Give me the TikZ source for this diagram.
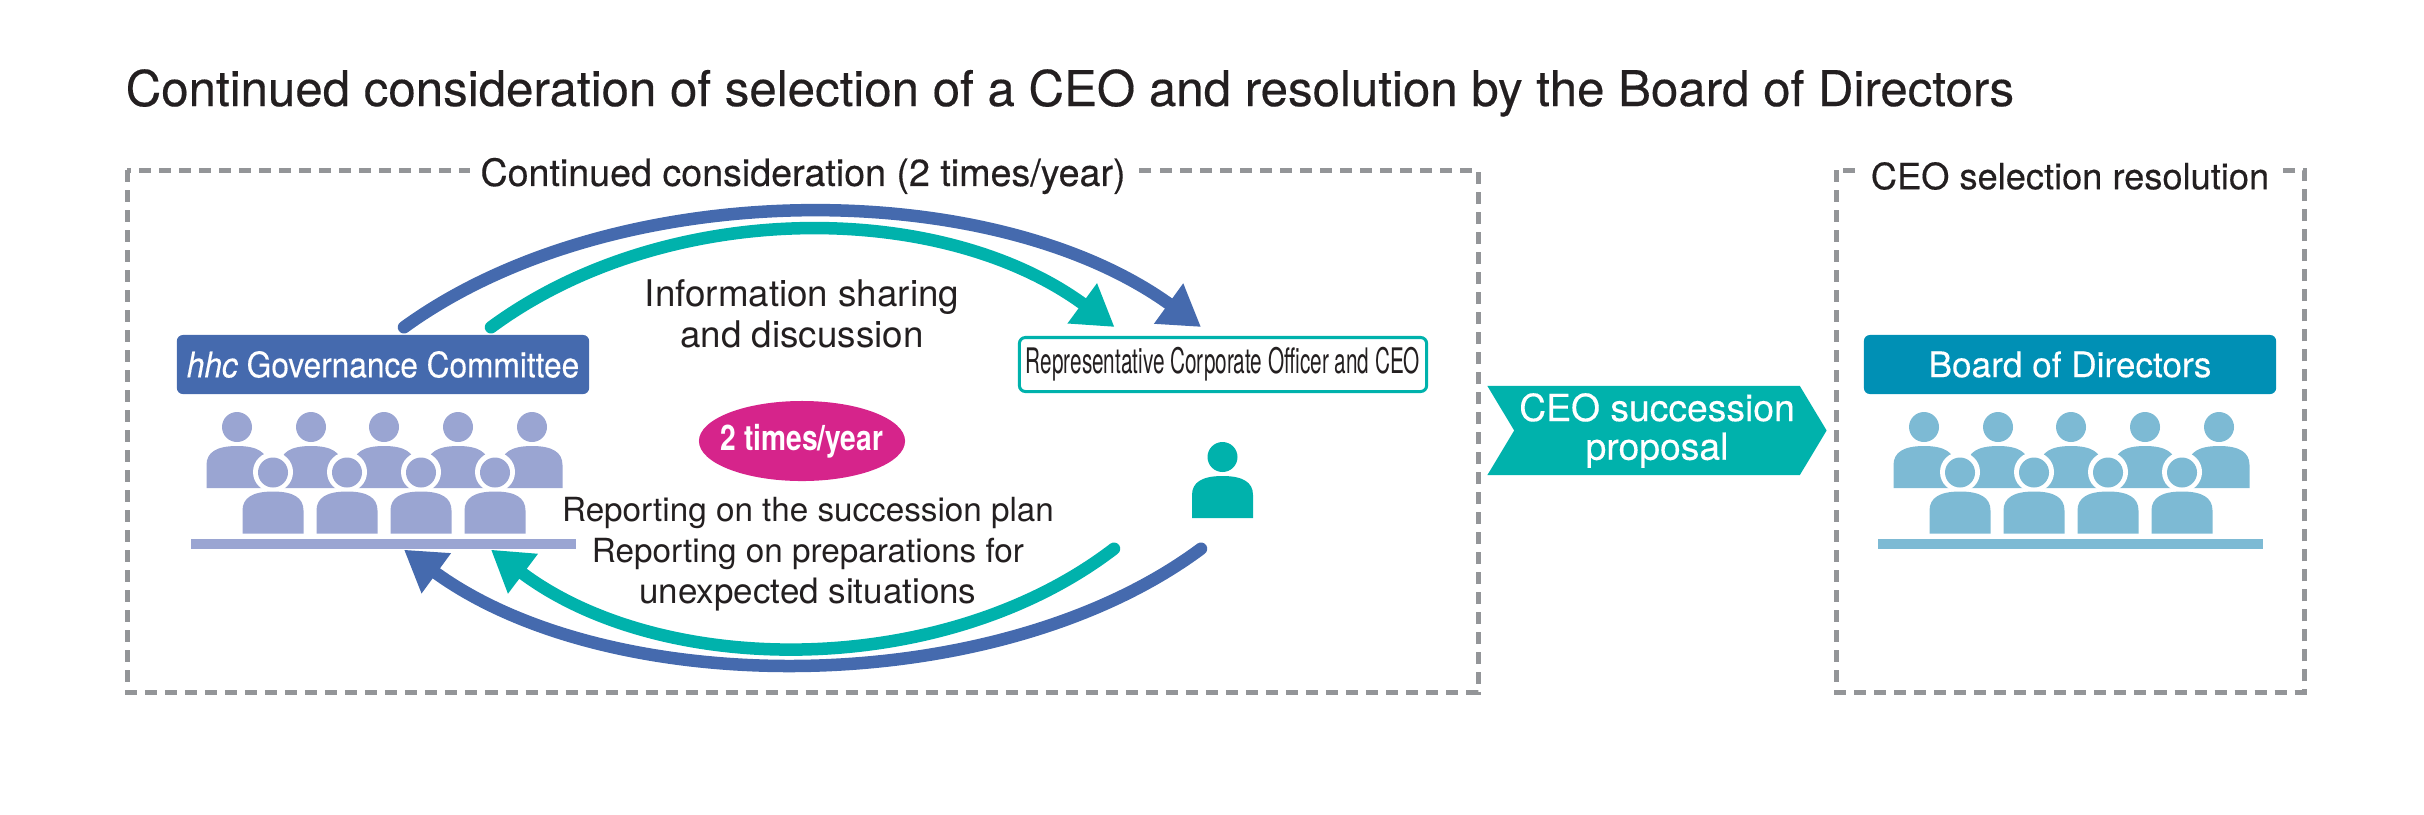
\documentclass[tikz,border=0pt]{standalone}
\usepackage{fontspec}
\usepackage{graphicx}
\setmainfont{TeX Gyre Heros}
\newfontfamily\medfont[FakeBold=0.3]{TeX Gyre Heros}
\usetikzlibrary{arrows.meta,shapes.geometric,shapes.symbols}
\definecolor{govblue}{HTML}{456AAE}
\definecolor{ceoteal}{HTML}{00B2AC}
\definecolor{govseat}{HTML}{9AA5D2}
\definecolor{boardblue}{HTML}{0090B5}
\definecolor{boardseat}{HTML}{7DBAD4}
\definecolor{pink}{HTML}{D6248B}
\definecolor{dashgray}{HTML}{939598}
\definecolor{inkblack}{HTML}{231F20}
\begin{document}
\begin{tikzpicture}[x=0.01cm,y=-0.01cm]
	\tikzset{
		frame/.style={draw=dashgray, line width=0.05cm, dash pattern=on 0.12cm off 0.08cm},
		framelabel/.style={fill=white, inner xsep=0.1cm, inner ysep=0cm, text=inkblack},
		header/.style={rectangle, rounded corners=0.06cm, minimum width=4.12cm, minimum height=0.59cm, inner sep=0cm, text=white},
		desk/.style={rectangle, minimum height=0.1cm, minimum width=3.85cm, inner sep=0cm},
		talk/.style={text=inkblack, align=center},
		flow/.style={line width=0.125cm, line cap=round, -{Triangle[length=0.4cm,width=0.47cm]}},
		person/.pic={
			\fill[#1] (0,-40) circle (15);
			\fill[#1] (-30.5,21) -- (-30.5,-2) .. controls (-30.5,-15) and (-20,-21) .. (0,-21) .. controls (20,-21) and (30.5,-15) .. (30.5,-2) -- (30.5,21) -- cycle;
		},
		crowd/.pic={
			\foreach \px in {0,74,147,221,295} \path (\px,0) pic {person=#1};
			\foreach \px in {36,110,184,258} {
				\fill[white] (\px,5) circle (20);
				\path (\px,45.5) pic {person=#1};
			}
		}
	}
	\useasboundingbox (0,0) rectangle (2424,814);
	\node[anchor=base west, inner sep=0cm, text=inkblack, font=\medfont\fontsize{14}{16}\selectfont] (title) at (125,106) {Continued consideration of selection of a CEO and resolution by the Board of Directors};
	% dashed frames
	\draw[frame] (127,170) rectangle (1478,692);
	\draw[frame] (1836,170) rectangle (2304,692);
	\node[framelabel,font=\medfont\fontsize{10.7}{12}\selectfont] (considerlabel) at (803,176) {Continued consideration (2 times/year)};
	\node[framelabel,font=\medfont\fontsize{10.3}{12}\selectfont] (selectlabel  ) at (2070,176) {CEO selection resolution};
	% committee side
	\node[header,fill=govblue,font=\medfont\fontsize{10}{12}\selectfont] (gov) at (383,364.5) {\scalebox{0.9}[1]{\textit{hhc} Governance Committee}};
	\path (237,467) pic {crowd=govseat};
	\node[desk,fill=govseat] (govdesk) at (383.5,544) {};
	% ceo side
	\node[rectangle, draw=ceoteal, line width=0.03cm, rounded corners=0.06cm, minimum width=4.07cm, minimum height=0.54cm, inner sep=0cm, text=inkblack, font=\fontsize{10}{12}\selectfont] (rep) at (1223,364.5) {\scalebox{0.59}[1]{Representative Corporate Officer and CEO}};
	\path (1222.5,497) pic {person=ceoteal};
	\node[minimum width=0.61cm, minimum height=0.41cm, inner sep=0cm] (ceo) at (1222.5,497.5) {};
	% board side
	\node[signal, signal to=east, signal from=west, signal pointer angle=118, fill=ceoteal, minimum width=3.39cm, minimum height=0.89cm, inner sep=0cm, text=white, align=center, font=\medfont\fontsize{10.6}{11}\selectfont] (proposal) at (1657,430.5) {CEO succession\\proposal};
	\node[header,fill=boardblue,font=\medfont\fontsize{10}{12}\selectfont] (board) at (2070,364.5) {Board of Directors};
	\path (1924,467) pic {crowd=boardseat};
	\node[desk,fill=boardseat] (boarddesk) at (2070.5,544) {};
	% texts in the middle
	\node[talk,font=\fontsize{10.45}{11.7}\selectfont] (sharing) at (802,314) {Information sharing\\and discussion};
	\node[ellipse, fill=pink, minimum width=2.06cm, minimum height=0.8cm, inner sep=0cm, text=white, font=\bfseries\fontsize{10}{12}\selectfont] (twice) at (802,441) {\makebox[0pt]{\scalebox{0.8}[1]{2 times/year}}};
	\node[talk,font=\fontsize{9.45}{11.7}\selectfont] (reporting) at (808,554.5) {Reporting on the succession plan\\Reporting on preparations for\\{\fontsize{9.95}{11.7}\selectfont unexpected situations}};
	% arrows
	\draw[flow,draw=govblue] ([shift={(21,-7)}]gov.north) .. controls (614,175) and (991,175) .. ([shift={(-22,-9)}]rep.north);
	\draw[flow,draw=ceoteal] ([shift={(108,-7)}]gov.north) .. controls (665,199) and (940,199) .. ([shift={(-108.5,-9)}]rep.north);
	\draw[flow,draw=govblue] ([shift={(-21.5,30)}]ceo.south) .. controls (996,701) and (611,701) .. ([shift={(20.5,0)}]govdesk.south);
	\draw[flow,draw=ceoteal] ([shift={(-108.5,30)}]ceo.south) .. controls (944,679) and (663,679) .. ([shift={(107.5,0)}]govdesk.south);
\end{tikzpicture}
\end{document}
